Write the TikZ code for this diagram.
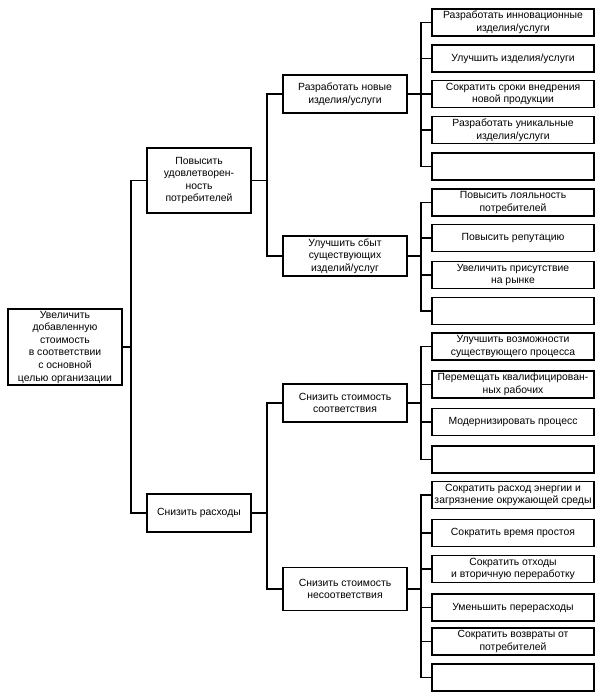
\documentclass[tikz,border=0pt]{standalone}
\usepackage{fontspec}
\setmainfont{Liberation Sans}
\begin{document}
\begin{tikzpicture}[x=1pt,y=-1pt,
  box/.style={draw,line width=1.7pt,rectangle,inner sep=0pt,align=center,
    font=\fontsize{10.4}{12.6}\selectfont},
  rootbox/.style={box,minimum width=114pt,minimum height=76pt},
  lonebox/.style={box,minimum width=104pt},
  ltwobox/.style={box,minimum width=124pt},
  lthreebox/.style={box,minimum width=162pt,minimum height=27pt},
  link/.style={line width=1.7pt}]
\useasboundingbox (0,0) rectangle (605,698);
% root
\node[rootbox] (root) at (65,347) {Увеличить\\добавленную\\стоимость\\в соответствии\\с основной\\целью организации};
% level 1
\node[lonebox,minimum height=65pt] (a) at (199,180.5) {Повысить\\удовлетворен-\\ность\\потребителей};
\node[lonebox,minimum height=38pt] (b) at (199,513) {Снизить расходы};
% level 2
\node[ltwobox,minimum height=38pt] (a1) at (345,94) {Разработать новые\\изделия/услуги};
\node[ltwobox,minimum height=40pt] (a2) at (345,256) {Улучшить сбыт\\существующих\\изделий/услуг};
\node[ltwobox,minimum height=38pt] (b1) at (345,403) {Снизить стоимость\\соответствия};
\node[ltwobox,minimum height=43pt] (b2) at (345,589) {Снизить стоимость\\несоответствия};
% level 3, group a1
\node[lthreebox] (a11) at (513,22.5) {Разработать инновационные\\изделия/услуги};
\node[lthreebox] (a12) at (513,58.5) {Улучшить изделия/услуги};
\node[lthreebox] (a13) at (513,94) {Сократить сроки внедрения\\новой продукции};
\node[lthreebox] (a14) at (513,130) {Разработать уникальные\\изделия/услуги};
\node[lthreebox] (a15) at (513,166.5) {};
% group a2
\node[lthreebox] (a21) at (513,202.5) {Повысить лояльность\\потребителей};
\node[lthreebox] (a22) at (513,238) {Повысить репутацию};
\node[lthreebox] (a23) at (513,275) {Увеличить присутствие\\на рынке};
\node[lthreebox] (a24) at (513,311) {};
% group b1
\node[lthreebox] (b11) at (513,346.5) {Улучшить возможности\\существующего процесса};
\node[lthreebox] (b12) at (513,384.5) {Перемещать квалифицирован-\\ных рабочих};
\node[lthreebox] (b13) at (513,422) {Модернизировать процесс};
\node[lthreebox] (b14) at (513,459.5) {};
% group b2
\node[lthreebox] (b21) at (513,495) {Сократить расход энергии и\\загрязнение окружающей среды};
\node[lthreebox] (b22) at (513,533) {Сократить время простоя};
\node[lthreebox] (b23) at (513,569) {Сократить отходы\\и вторичную переработку};
\node[lthreebox] (b24) at (513,607.5) {Уменьшить перерасходы};
\node[lthreebox] (b25) at (513,641.5) {Сократить возвраты от\\потребителей};
\node[lthreebox] (b26) at (513,677.5) {};
% connectors
\foreach \c in {a,b} \draw[link] (root.east) -- ++(8,0) |- (\c.west);
\foreach \c in {a1,a2} \draw[link] (a.east) -- ++(15,0) |- (\c.west);
\foreach \c in {b1,b2} \draw[link] (b.east) -- ++(15,0) |- (\c.west);
\foreach \c in {a11,a12,a13,a14,a15} \draw[link] (a1.east) -- ++(13,0) |- (\c.west);
\foreach \c in {a21,a22,a23,a24} \draw[link] (a2.east) -- ++(13,0) |- (\c.west);
\foreach \c in {b11,b12,b13,b14} \draw[link] (b1.east) -- ++(13,0) |- (\c.west);
\foreach \c in {b21,b22,b23,b24,b25,b26} \draw[link] (b2.east) -- ++(13,0) |- (\c.west);
\end{tikzpicture}
\end{document}
